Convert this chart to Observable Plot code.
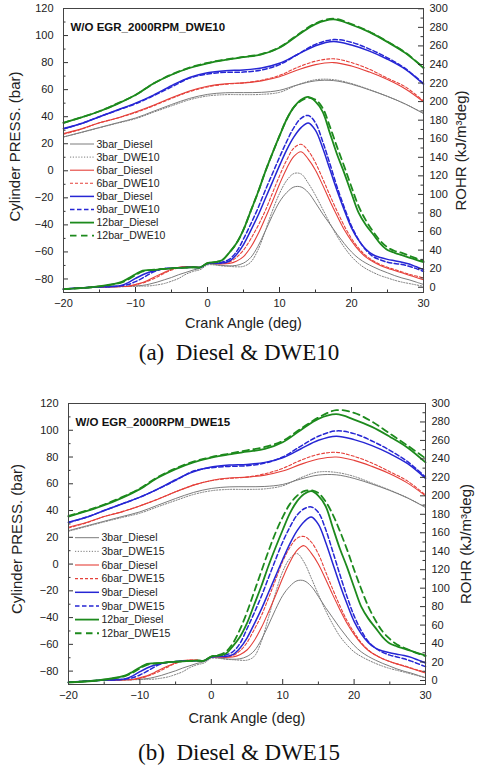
<!DOCTYPE html>
<html><head><meta charset="utf-8">
<script src="https://cdn.jsdelivr.net/npm/d3@7"></script>
<script src="https://cdn.jsdelivr.net/npm/@observablehq/plot@0.6"></script>
<style>
body{margin:0;background:#fff;width:478px;height:772px;position:relative;overflow:hidden}
.panel{position:absolute;left:0}
.cap{position:absolute;left:0;width:478px;text-align:center;font-family:"Liberation Serif","Times New Roman",serif;font-size:23px;line-height:26px;color:#111;white-space:pre}
</style></head><body>
<div id="pa" class="panel" style="top:0"></div>
<div class="cap" style="top:340px">(a)  Diesel &amp; DWE10</div>
<div id="pb" class="panel" style="top:395px"></div>
<div class="cap" style="top:740px">(b)  Diesel &amp; DWE15</div>
<script>
// ---- crank angle grids (deg) ----
const crankP = [-20,-17.5,-15,-12.5,-10,-7.5,-5,-2.5,0,2.5,5,7.5,10,12.5,15,17.5,20,22.5,25,27.5,30];
const crankR = [-20,-16,-13,-12,-11,-10,-9,-8,-7,-6,-5,-4,-3,-2,-1,0,1,2,3,4,5,6,7,8,9,10,11,12,13,14,15,16,17,18,19,20,21,22,23,24,25,26,27,28,29,30];

// ---- cylinder pressure (bar) ----
const p3Diesel  = [25,28.5,32,35.5,39,44,49,53.5,56.5,57.7,57.8,58,59.5,63.5,66.5,66.7,64,59.8,55,49.3,42.3];
const p6Diesel  = [27.5,31,35.5,39,43.5,48.5,54,59,62.5,64.3,65,66.5,69.5,74.5,78.5,80,77.5,73,67.5,60.5,51];
const p9Diesel  = [31.2,35,40,45,50,56,63,69,72.5,74,74.5,76,79.5,86,92.5,95.6,93,88.5,82.5,75,64];
const p12Diesel = [35.5,39.5,44,49.5,56,64.5,71,76,79.5,82,84,86,91,100,108.5,112,108,102.5,95.2,87,76];

const p3DWE10  = [25,28.3,31.8,35.2,38.5,43.3,48,52.5,55.3,56.3,56.3,56.5,58,63.5,67.3,67.4,64.5,60,55,49.3,42.5];
const p6DWE10  = [27,30.8,35.5,39,43,48,53.5,58.5,62,64,65,67,70.5,76.5,81,82.8,80,75,68.5,62,51.5];
const p9DWE10  = [31,35,40,44.8,49.5,55.5,62,68.5,71.5,72.8,73,74.5,78.5,86,93.5,97,95,90,83.5,75.5,64.5];
const p12DWE10 = [35.5,39.5,44,49.8,56,64.5,71.2,76.3,79.8,82.3,84.2,86.3,91.3,100.5,109,112.5,108.5,102.8,95.5,87.3,76.3];

const p3DWE15  = [24.5,28,31.5,34.8,38,42.8,47.5,52,54.8,55.8,55.8,56.2,58.5,64.5,68.8,68.5,65.5,60.5,55.3,49.5,42.5];
const p6DWE15  = [27,30.8,35.5,39.2,43.5,48.5,54,59,62.3,64,65,67.5,71.5,77.5,82,83.5,80.5,75.5,69,62,51.5];
const p9DWE15  = [31,35,40,45,50,56,62.5,69.5,72,73,73.5,75.5,80,88,95.5,99.5,97.5,92,85,76.5,65];
const p12DWE15 = [36,40,44.5,50,56.5,65,71.5,76.5,80,82.5,85,87.5,92,101,109.5,115,113,106.5,97.5,88.5,79];

// ---- ROHR (kJ/m3deg) ----
const r3Diesel  = [-2,0,0.5, 0.8,1,1.5,2,3.5,5.5,8,10.5,13.5,16,18.5,20.5, 25,24.5,23.5,23,23.5,26,32,44,60,77,92,102,108,108,102,91,79,68,57,47,38,31,26,22,18.5,15.5,12.5,10,8,5.5,3];
const r6Diesel  = [-2,0,0.5, 0.8,1,3,5,8.5,12.5,16,19.3,21.5,22.2,22,21.5, 25.5,25.5,25,25.5,28,33,43,57,74,92,111,128,141,146,138,126,110,93,77,62,50,40,32.5,27.5,23.5,20.5,18,15.5,13,10.5,8];
const r9Diesel  = [-2,0,1, 2,5,9.5,13.5,16.5,18.5,19.8,20.5,21,21.3,21.5,21.5, 25.5,26,26,28,35,46,61,77,95,113,131,148,162,172,177,169,150,127,104,83,64,50.5,41,35,32,30,28.5,27,25,22,19];
const r12Diesel = [-2,0,3.5, 5.5,9.5,14,18,18.5,19,19.8,20.3,20.8,21.2,21.5,21.5, 26,27,29,37,47,62,82,102,124,144,163,181,194,202,205,200,189,166,143,123,101,80,67,57,47,40,37,34.5,32,29.5,27];

const r3DWE10  = [-2,0,0.3, 0.5,0.8,1,1.2,1.5,2.5,4,6.5,9.5,14,17,19, 24,24,23,22.5,22,22.5,27,40,60,82,101,115,122.5,122,112,99,84,69,55,43,33,25.5,20,16,12.5,10,7.5,5.5,4,2.5,1];
const r6DWE10  = [-2,0,0.5, 0.8,1,2.5,4.5,7.5,11,15,18.5,21,22,22,21.5, 25.5,25.5,25.5,27,32,40,52,66,82,101,120,137,150,154,147,134,117,99,82,66,52.5,42,34,28.5,24.5,21.5,19,16.5,14,12,10];
const r9DWE10  = [-2,0,0.8, 1.5,3,6,10,14.5,18,20,20.5,21,21.3,21.5,21.5, 25.5,26.5,27,30,38,52,68,85,104,122,140,157,172,182,185,177,157,133,108,86,66,51,40,33,29.5,27,25.5,24.5,22.5,20,17];
const r12DWE10 = [-2,0,3, 5,8.5,13,17,18.5,19,19.8,20.3,20.8,21.2,21.5,21.5, 26,27,29,37,47,62,82,102,124,144,163,181,194,201,204,202,193,173,151,130,108,87,72,60,50,43,39,37,34,31,28];

const r3DWE15  = [-2,0,0.3, 0.5,0.8,1,1.2,1.5,2.5,4,6.5,9.5,14,17,19, 24,24,23,22.5,22,22,26,42,68,95,118,132,137.5,128,111,93,76,61,48,38.5,31,26,22,18.5,15.5,13,11,9,7,5,3];
const r6DWE15  = [-2,0,0.5, 0.8,1,2.5,4.5,7.5,11,15,18.5,21,22,22,21.5, 25.5,25.5,25.5,27,32,41,55,70,89,109,129,144,154,156,150,137,118,99,81,65,52,41,33,27.5,23.5,20.5,18,16,13.5,11,9];
const r9DWE15  = [-2,0,0.8, 1.5,3,6,10,14.5,18,20,20.5,21,21.3,21.5,21.5, 25.5,26.5,27.5,31,40,56,73,91,111,131,150,166,179,186,188,182,164,140,115,91,70,54,42,35,30.5,27.5,25.5,23.5,21,18,15];
const r12DWE15 = [-2,0,3, 5,8.5,13,17,18.5,19,19.8,20.3,20.8,21.2,21.5,21.5, 26,27.5,31,40,55,74,96,118,140,160,177,191,200,205,206,203,194,180,162,142,120,99,80,65,53,45,39,35.5,32,29,26.5];

// ---- categories / ticks ----
const loadKeys = ["3bar","6bar","9bar","12bar"];
const pressTicks = [-80,-60,-40,-20,0,20,40,60,80,100,120];
const rohrTicks = [0,20,40,60,80,100,120,140,160,180,200,220,240,260,280,300];
const crankTicks = [-20,-10,0,10,20,30];

// ---- styles ----
const loadColor = ["#7c7c7c","#e5403a","#2626d4","#1d8a1d"];
const lineWidth = [1,1.1,1.5,1.8];
const dweDash = ["1.2,1.6","3,2","4.5,2.5","6.5,4.5"];

const pressDiesel = [p3Diesel,p6Diesel,p9Diesel,p12Diesel];
const rohrDiesel = [r3Diesel,r6Diesel,r9Diesel,r12Diesel];

function panel(cfg) {
  const width = 478, height = 340;
  const W = width - cfg.ml - cfg.mr, H = height - cfg.mt - cfg.mb;
  const f = r => cfg.a + cfg.b * r;
  const series = [];
  loadKeys.forEach((k, i) => {
    series.push({name: k + "_Diesel", i, dash: null, p: pressDiesel[i], r: rohrDiesel[i]});
    series.push({name: k + "_" + cfg.fuel, i, dash: dweDash[i], p: cfg.pressDWE[i], r: cfg.rohrDWE[i]});
  });
  const marks = [];
  for (const s of series) {
    const st = {stroke: loadColor[s.i], strokeWidth: lineWidth[s.i], curve: "catmull-rom"};
    if (s.dash) st.strokeDasharray = s.dash;
    marks.push(Plot.line(crankP.map((x, j) => ({x, y: s.p[j]})), {x: "x", y: "y", ...st}));
    marks.push(Plot.line(crankR.map((x, j) => ({x, y: f(s.r[j])})), {x: "x", y: "y", ...st}));
  }
  const tk = "#333";
  const leftMinor = d3.range(-90, 121, 10).filter(v => !pressTicks.includes(v));
  const rightMinor = d3.range(10, 300, 20);
  const xMinor = [-15,-5,5,15,25];
  marks.push(
    Plot.ruleY(pressTicks, {insetRight: W - 5, stroke: tk}),
    Plot.ruleY(leftMinor, {insetRight: W - 2.5, stroke: tk}),
    Plot.ruleY(rohrTicks.map(f), {insetLeft: W - 5, stroke: tk}),
    Plot.ruleY(rightMinor.map(f), {insetLeft: W - 2.5, stroke: tk}),
    Plot.ruleX(crankTicks, {insetTop: H - 5, stroke: tk}),
    Plot.ruleX(xMinor, {insetTop: H - 2.5, stroke: tk}),
    Plot.frame({stroke: "#444", strokeWidth: 1}),
    Plot.axisY({anchor: "left", ticks: pressTicks, tickSize: 0, tickPadding: 10, label: null, fontSize: 11}),
    Plot.axisY({anchor: "right", ticks: rohrTicks.map(f), tickFormat: v => String(Math.round((v - cfg.a) / cfg.b)), tickSize: 0, tickPadding: 6, label: null, fontSize: 11}),
    Plot.axisX({ticks: crankTicks, tickSize: 0, tickPadding: 7, label: null, fontSize: 11}),
    Plot.text([cfg.title], {frameAnchor: "top-left", dx: 7, dy: cfg.titleDy, textAnchor: "start", fontWeight: "bold", fontSize: 11.5, fill: "#111"}),
    Plot.text(["Crank Angle (deg)"], {frameAnchor: "bottom", dy: cfg.xLabDy, textAnchor: "middle", fontSize: 14.5, fill: "#222"}),
    Plot.text(["Cylinder PRESS. (bar)"], {frameAnchor: "left", dx: cfg.yLabDx, dy: cfg.yLabDy, textAnchor: "middle", rotate: -90, fontSize: 15, fill: "#222"}),
    Plot.text(["ROHR (kJ/m³deg)"], {frameAnchor: "right", dx: cfg.rLabDx, textAnchor: "middle", rotate: -90, fontSize: 15, fill: "#222"})
  );
  const svg = Plot.plot({
    width, height,
    marginTop: cfg.mt, marginBottom: cfg.mb, marginLeft: cfg.ml, marginRight: cfg.mr,
    x: {domain: [-20, 30]},
    y: {domain: [-90, 120]},
    style: {fontFamily: "'Liberation Sans', Arial, sans-serif", fontSize: "11px", background: "white", color: "#222"},
    marks
  });
  // legend (inside the frame, upper left)
  const g = d3.select(svg).append("g").attr("font-size", 10.5).attr("fill", "#222").attr("text-anchor", "start");
  series.forEach((s, j) => {
    const y = cfg.legY + j * cfg.legDy;
    g.append("line").attr("x1", cfg.legX).attr("x2", cfg.legX + 24).attr("y1", y).attr("y2", y)
      .attr("stroke", loadColor[s.i]).attr("stroke-width", lineWidth[s.i])
      .attr("stroke-dasharray", s.dash);
    g.append("text").attr("x", cfg.legX + 26.5).attr("y", y).attr("dy", "0.35em").attr("text-anchor", "start").text(s.name);
  });
  document.getElementById(cfg.el).appendChild(svg);
}

panel({el: "pa", fuel: "DWE10", title: "W/O EGR_2000RPM_DWE10",
  pressDWE: [p3DWE10,p6DWE10,p9DWE10,p12DWE10], rohrDWE: [r3DWE10,r6DWE10,r9DWE10,r12DWE10],
  ml: 63, mr: 55, mt: 8, mb: 48, a: -86.1, b: 0.6863,
  titleDy: 14, xLabDy: 35, yLabDx: -48, yLabDy: -4, rLabDx: 38,
  legX: 70, legY: 144, legDy: 13.1});
panel({el: "pb", fuel: "DWE15", title: "W/O EGR_2000RPM_DWE15",
  pressDWE: [p3DWE15,p6DWE15,p9DWE15,p12DWE15], rohrDWE: [r3DWE15,r6DWE15,r9DWE15,r12DWE15],
  ml: 68, mr: 53, mt: 8, mb: 51, a: -87, b: 0.69,
  titleDy: 14, xLabDy: 38, yLabDx: -51, yLabDy: -5, rLabDx: 41,
  legX: 75, legY: 142.7, legDy: 13.65});
</script>
</body></html>
